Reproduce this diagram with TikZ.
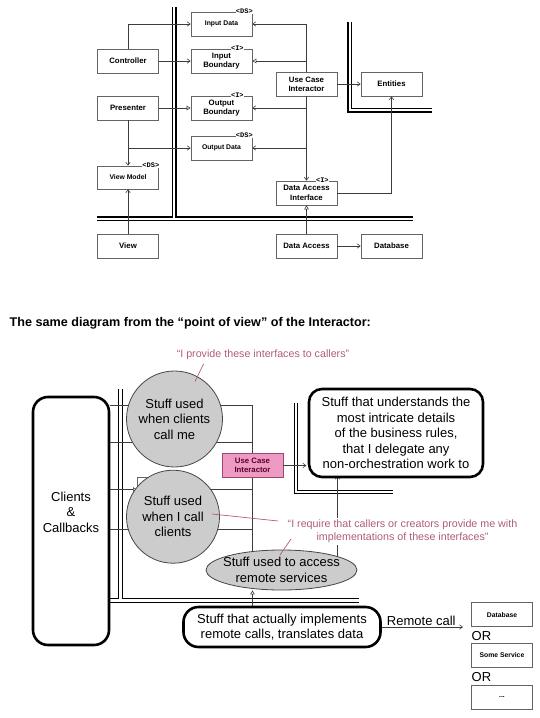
\documentclass[tikz,border=0pt]{standalone}
\usepackage{fontspec}
\setmainfont{Liberation Sans}
\newfontfamily\stereofont{Liberation Mono}
\usetikzlibrary{arrows.meta,shapes.geometric}
\definecolor{conncol}{RGB}{60,60,60}
\definecolor{boxcol}{RGB}{100,100,100}
\definecolor{pinkq}{RGB}{176,92,124}
\definecolor{pinkfill}{RGB}{238,155,195}
\definecolor{pinkdraw}{RGB}{160,70,110}
\definecolor{pinkdark}{RGB}{90,0,40}
\definecolor{circfill}{RGB}{204,204,204}
\definecolor{circdraw}{RGB}{70,70,70}
\begin{document}
\begin{tikzpicture}[x=1pt,y=-1pt,
  conn/.style={draw=conncol, line width=0.6pt},
  tobarb/.style={-{Straight Barb[length=3pt,width=4.5pt]}},
  totri/.style={-{Triangle[open,length=4pt,width=4.5pt]}},
  wall/.style={draw=black, line width=1.1pt},
  ubox/.style={draw=boxcol, line width=0.7pt, fill=white, minimum width=61pt, minimum height=24pt, inner sep=0pt, align=center, font=\fontsize{7.8}{9.3}\selectfont\bfseries},
  dbox/.style={ubox, font=\fontsize{6.8}{8}\selectfont\bfseries},
  stereo/.style={fill=white, inner sep=0.4pt, font=\stereofont\fontsize{7}{7}\selectfont\bfseries},
  bigtxt/.style={font=\fontsize{13}{15.6}\selectfont, align=center},
  fatbox/.style={draw=black, line width=2.6pt, rounded corners=13pt, fill=white, inner sep=0pt, bigtxt},
  blob/.style={draw=circdraw, line width=0.8pt, fill=circfill, inner sep=0pt, bigtxt},
  pinktxt/.style={text=pinkq, font=\fontsize{10.7}{13.3}\selectfont, align=center},
  pinkln/.style={draw=pinkq, line width=0.7pt}
]
\useasboundingbox (0,0) rectangle (540,718);

% ================= TOP DIAGRAM =================
\draw[wall] (97,217) -- (172.5,217) -- (172.5,7);
\draw[wall] (176,7) -- (176,217) -- (413,217);
\draw[wall] (97,220.5) -- (413,220.5);
\draw[wall] (348,22) -- (348,112) -- (432,112);
\draw[wall] (351.5,22) -- (351.5,108.5) -- (432,108.5);

\node[dbox] (indata) at (221.5,24) {Input Data};
\node[ubox] (inbound) at (221.5,61) {Input\\Boundary};
\node[ubox] (outbound) at (221.5,108) {Output\\Boundary};
\node[dbox] (outdata) at (221.5,148) {Output Data};
\node[ubox] (controller) at (128,61) {Controller};
\node[ubox] (presenter) at (128,108) {Presenter};
\node[dbox, minimum height=23pt] (viewmodel) at (128,177.5) {View Model};
\node[ubox] (view) at (128,246) {View};
\node[ubox] (uci) at (306.5,84) {Use Case\\Interactor};
\node[ubox] (entities) at (391.5,84) {Entities};
\node[ubox] (dai) at (306.5,193) {Data Access\\Interface};
\node[ubox] (dataaccess) at (306.5,246) {Data Access};
\node[ubox] (database) at (391.5,246) {Database};

\node[stereo, anchor=east] (sIndata) at ([xshift=1pt]indata.north east) {<DS>};
\node[stereo] (sInbound) at ([xshift=-15pt]inbound.north east) {<I>};
\node[stereo] (sOutbound) at ([xshift=-15pt]outbound.north east) {<I>};
\node[stereo, anchor=east] (sOutdata) at ([xshift=1pt]outdata.north east) {<DS>};
\node[stereo, anchor=east] (sViewmodel) at ([xshift=1pt]viewmodel.north east) {<DS>};
\node[stereo] (sDai) at ([xshift=-15pt]dai.north east) {<I>};

\draw[conn,tobarb] (controller.north) |- (indata.west);
\draw[conn,tobarb] (controller.east) -- (inbound.west);
\draw[conn,totri] (presenter.east) -- (outbound.west);
\draw[conn,tobarb] (presenter.south) -- (viewmodel.north);
\draw[conn,tobarb] (presenter.south |- outdata.west) -- (outdata.west);
\draw[conn,tobarb] (view.north) -- (viewmodel.south);
\draw[conn,tobarb] (uci.north) |- (indata.east);
\draw[conn,totri] (uci.north |- inbound.east) -- (inbound.east);
\draw[conn,tobarb] (uci.south) -- (dai.north);
\draw[conn,tobarb] (uci.south |- outbound.east) -- (outbound.east);
\draw[conn,tobarb] (uci.south |- outdata.east) -- (outdata.east);
\draw[conn,tobarb] (uci.east) -- (entities.west);
\draw[conn,tobarb] (dai.east) -| (entities.south);
\draw[conn,totri] (dataaccess.north) -- (dai.south);
\draw[conn,tobarb] (dataaccess.east) -- (database.west);

% ================= TITLE =================
\node[anchor=west, inner sep=0pt, font=\fontsize{12.6}{14}\selectfont\bfseries] (title) at (9.5,323) {The same diagram from the “point of view” of the Interactor:};

% ================= BOTTOM DIAGRAM =================
\coordinate (yA) at (0,405.5);
\coordinate (yB) at (0,442.5);
\coordinate (yC) at (0,489.5);
\coordinate (yD) at (0,529.5);
\coordinate (obcorner) at (137,477.5);
\coordinate (daix) at (337.5,574.5);
\coordinate (remoteend) at (463,627);

% walls
\draw[wall, line width=1pt] (109,598.5) -- (118.5,598.5) -- (118.5,389);
\draw[wall, line width=1pt] (122,389) -- (122,598.5) -- (359,598.5);
\draw[wall, line width=1pt] (109,602) -- (359,602);
\draw[wall, line width=1pt] (294,403) -- (294,493.5) -- (392.5,493.5);
\draw[wall, line width=1pt] (297.5,403) -- (297.5,490) -- (392.5,490);

% nodes that lines refer to
\node[fatbox, rounded corners=15pt, minimum width=76pt, minimum height=248pt] (clients) at (71,521) {};
\node[ubox, draw=pinkdraw, fill=pinkfill, text=pinkdark] (uci2) at (252.5,465.5) {Use Case\\Interactor};

% background lines
\draw[conn] (clients.east |- yA) -- (uci2.north |- yA) -- (uci2.north);
\draw[conn] (clients.east |- yB) -- (uci2.north |- yB);
\draw[conn,totri] (clients.east |- yC) -- (obcorner |- yC);
\draw[conn] (obcorner |- yC) -- (uci2.south |- yC);
\draw[draw=boxcol, line width=0.7pt] (obcorner |- yC) -- (obcorner) -- ++(18,0);
\draw[conn] (clients.east |- yD) -- (uci2.south |- yD);
\draw[conn] (uci2.south) -- (uci2.south |- daix);
\draw[conn] (uci2.south |- daix) -- (daix);
\draw[conn,tobarb] (daix) -- ([yshift=1.3pt]daix |- 0,477);

% circles and ellipse
\node[blob, circle, minimum size=96pt] (circ1) at (174.5,419) {Stuff used\\when clients\\call me};
\node[blob, circle, minimum size=93pt] (circ2) at (173,516.7) {Stuff used\\when I call\\clients};
\node[blob, ellipse, minimum width=151pt, minimum height=40pt] (remote) at (281.5,570) {};
\node[bigtxt, inner sep=0pt] (remotetxt) at (remote.center) {Stuff used to access\\remote services};

% big boxes
\node[fatbox, minimum width=174pt, minimum height=88pt] (rules) at (396,433) {Stuff that understands the\\most intricate details\\of the business rules,\\that I delegate any\\non-orchestration work to};
\node[fatbox, rounded corners=15pt, minimum width=197pt, minimum height=40pt] (impl) at (282,627) {Stuff that actually implements\\remote calls, translates data};
\node[bigtxt] (clientstxt) at (71,512) {Clients\\\&\\Callbacks};

% connectors in bottom diagram
\draw[conn,tobarb, shorten >=1.3pt] (uci2.east) -- (uci2.east -| rules.west);
\draw[conn,totri] (impl.north -| uci2.south) -- (remote.south -| uci2.south);
\draw[conn,tobarb] (impl.east |- remoteend) -- (remoteend);
\node[bigtxt, inner sep=0pt] (remotecall) at (421.3,621) {Remote call};

% right boxes
\node[ubox, font=\fontsize{6.8}{8}\selectfont\bfseries] (db2) at (502,614.7) {Database};
\node[bigtxt, anchor=west, inner sep=0pt] (or1) at (471.5,636.5) {OR};
\node[ubox, font=\fontsize{6.8}{8}\selectfont\bfseries] (svc) at (502,655.3) {Some Service};
\node[bigtxt, anchor=west, inner sep=0pt] (or2) at (471.5,677.5) {OR};
\node[ubox, font=\fontsize{6.8}{8}\selectfont\bfseries] (etc) at (502,697) {...};

% pink remarks
\node[pinktxt, inner sep=0pt] (q1) at (263,355) {“I provide these interfaces to callers”};
\draw[pinkln] (203.5,364) -- (195,381.5);
\node[pinktxt, fill=white, inner sep=1.5pt] (q2) at (402.5,531.5) {“I require that callers or creators provide me with\\implementations of these interfaces”};
\draw[pinkln] (212,514) -- (278,521);
\draw[pinkln] (291,539) -- (280,555);
\end{tikzpicture}
\end{document}
